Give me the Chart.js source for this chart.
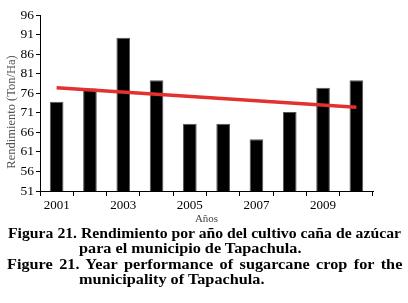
<!DOCTYPE html>
<html>
<head>
<meta charset="utf-8">
<script src="https://cdn.jsdelivr.net/npm/chart.js@4"></script>
<style>
    body { margin: 0; background: #fff; width: 408px; height: 303px; overflow: hidden; position: relative; }
    #grafica { position: absolute; left: 0; top: 0; }
    .pie { position: absolute; left: 7px; font-family: 'Liberation Serif', 'Times New Roman', serif;
        font-weight: bold; font-size: 14.5px; line-height: 16px; color: #000; white-space: nowrap;
        transform: scaleX(1.12); transform-origin: 0 0; }
    .just { width: 353px; text-align: justify; text-align-last: justify; }
    .sangria { left: 79px; }
    .angosta { left: 8px; transform: scaleX(1.085); }
</style>
</head>
<body>
<canvas id="grafica" width="408" height="226"></canvas>
<div class="pie angosta" style="top:225px">Figura 21. Rendimiento por año del cultivo caña de azúcar</div>
<div class="pie sangria" style="top:240px">para el municipio de Tapachula.</div>
<div class="pie just" style="top:256px">Figure 21. Year performance of sugarcane crop for the</div>
<div class="pie sangria" style="top:271px">municipality of Tapachula.</div>
<script>
const anios = ['2001', '2002', '2003', '2004', '2005', '2006', '2007', '2008', '2009', '2010'];
const rendimiento = [73.8, 77.2, 90.2, 79.3, 68.2, 68.2, 64.2, 71.2, 77.4, 79.3];
// tendencia: solo extremos
const tendencia = [77.4, null, null, null, null, null, null, null, null, 72.4];
const yMin = 51, yMax = 96, yPaso = 5;
const tituloY = 'Rendimiento (Ton/Ha)';

const fuente = "'Liberation Serif', 'Times New Roman', serif";

// titulo del eje y, un poco mas abajo que el centro del eje
const tituloEjeY = {
    id: 'tituloEjeY',
    afterDraw(chart) {
        const ctx = chart.ctx;
        const a = chart.chartArea;
        ctx.save();
        ctx.translate(12, (a.top + a.bottom) / 2 + 9);
        ctx.rotate(-Math.PI / 2);
        ctx.font = '12.5px ' + fuente;
        ctx.fillStyle = '#555';
        ctx.textAlign = 'center';
        ctx.textBaseline = 'middle';
        ctx.fillText(tituloY, 0, 0);
        ctx.restore();
    }
};

new Chart(document.getElementById('grafica'), {
    data: {
        labels: anios,
        datasets: [
            {
                type: 'line',
                data: tendencia,
                borderColor: '#e2312f',
                borderWidth: 3.5,
                pointRadius: 0,
                spanGaps: true,
                order: 0
            },
            {
                type: 'bar',
                data: rendimiento,
                backgroundColor: '#000',
                borderColor: '#555',
                borderWidth: 1,
                barPercentage: 0.41,
                categoryPercentage: 1,
                order: 1
            }
        ]
    },
    options: {
        responsive: false,
        animation: false,
        layout: { padding: { top: 15, right: 35, left: 0, bottom: 0 } },
        plugins: { legend: { display: false }, tooltip: { enabled: false } },
        scales: {
            x: {
                offset: true,
                grid: { display: true, drawOnChartArea: false, offset: true, tickLength: 5, color: '#000' },
                border: { color: '#000', width: 1 },
                ticks: {
                    autoSkip: false, maxRotation: 0, color: '#000', padding: 2,
                    font: { family: fuente, size: 13 },
                    callback: (v, i) => (i % 2 === 0 ? anios[i] : '')
                },
                title: { display: true, text: 'Años', color: '#444', font: { family: fuente, size: 11 }, padding: { top: 0, bottom: 0 } },
                afterFit: (s) => { s.height = 35; }
            },
            y: {
                min: yMin, max: yMax,
                grid: { display: true, drawOnChartArea: false, tickLength: 4, color: '#000' },
                border: { color: '#000', width: 1 },
                ticks: { stepSize: yPaso, color: '#000', padding: 2, font: { family: fuente, size: 13.5 } },
                afterFit: (s) => { s.width = 40; }
            }
        }
    },
    plugins: [tituloEjeY]
});
</script>
</body>
</html>
